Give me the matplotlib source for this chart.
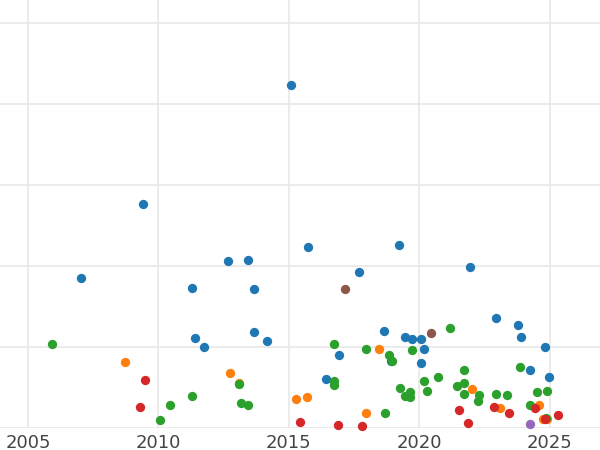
import matplotlib
matplotlib.use("Agg")
import matplotlib.pyplot as plt

blue_x = [2015.08, 2009.41, 2007.03, 2015.73, 2019.21, 2012.66, 2013.43, 2011.28, 2013.66, 2021.93,
          2017.68, 2011.40, 2011.74, 2013.66, 2014.16, 2018.64, 2016.92, 2016.42, 2018.91, 2019.44,
          2019.71, 2020.06, 2020.17, 2020.06, 2022.93, 2023.77, 2023.89, 2024.81, 2024.23, 2024.96]
blue_y = [423.6, 276.6, 185, 223.5, 226, 206, 207.5, 173, 171.7, 199,
          192.7, 111, 100, 118.6, 107.4, 119.8, 90, 60.5, 82.7, 112.4,
          110, 110, 97.6, 80.3, 135.9, 127.2, 112.4, 100, 71.6, 63]

orange_x = [2008.72, 2012.74, 2013.08, 2015.27, 2015.69, 2017.95, 2018.45, 2022.01, 2023.08, 2024.58, 2024.73, 2024.89]
orange_y = [81.5, 67.9, 55.6, 35.8, 38.3, 18.5, 97.6, 48.2, 24.7, 28.4, 11.1, 11.1]

green_x = [2005.92, 2010.06, 2010.44, 2011.28, 2013.08, 2013.16, 2013.43, 2016.72, 2016.72, 2016.72,
           2017.95, 2018.68, 2018.83, 2018.95, 2019.25, 2019.44, 2019.64, 2019.64, 2019.71, 2020.17,
           2020.29, 2020.71, 2021.17, 2021.44, 2021.70, 2021.70, 2021.70, 2022.24, 2022.28, 2022.93,
           2023.35, 2023.85, 2024.23, 2024.50, 2024.89, 2024.85]
green_y = [103.7, 9.9, 28.4, 39.5, 54.3, 30.9, 28.4, 103.7, 58, 53.1,
           97.6, 18.5, 90.2, 82.7, 49.4, 39.5, 44.5, 38.3, 96.3, 58,
           45.7, 63, 123.5, 51.9, 71.6, 55.6, 42, 33.3, 40.8, 42,
           40.8, 75.3, 28.4, 44.5, 45.7, 12.4]

red_x = [2009.48, 2009.29, 2015.42, 2016.88, 2017.80, 2021.51, 2021.86, 2022.85, 2023.43, 2024.43, 2024.81, 2025.31]
red_y = [59.3, 25.9, 7.4, 3.7, 2.5, 22.2, 6.2, 25.9, 18.5, 24.7, 11.1, 16]

purple_x = [2024.23]
purple_y = [4.9]

brown_x = [2017.15, 2020.44]
brown_y = [171.7, 117.3]

series = [
    (blue_x, blue_y, "#1f77b4"),
    (orange_x, orange_y, "#ff7f0e"),
    (green_x, green_y, "#2ca02c"),
    (red_x, red_y, "#d62728"),
    (purple_x, purple_y, "#9467bd"),
    (brown_x, brown_y, "#8c564b"),
]

fig = plt.figure(figsize=(6, 4.5), dpi=100)
ax = fig.add_axes([0, 0.049, 1, 0.951])
for xs, ys, c in series:
    ax.scatter(xs, ys, s=45, color=c, zorder=3, clip_on=False, linewidths=0)

ax.set_xlim(2003.93, 2026.92)
ax.set_ylim(0, 528.6)
ax.set_xticks([2005, 2010, 2015, 2020, 2025])
ax.set_yticks([0, 100, 200, 300, 400, 500])
ax.set_yticklabels([])
ax.grid(True, color="#e8e8e8", linewidth=1.2)
for s in ax.spines.values():
    s.set_visible(False)
ax.tick_params(length=0, labelsize=13, labelcolor="#444444", pad=4)

fig.savefig("out.png", dpi=100)
